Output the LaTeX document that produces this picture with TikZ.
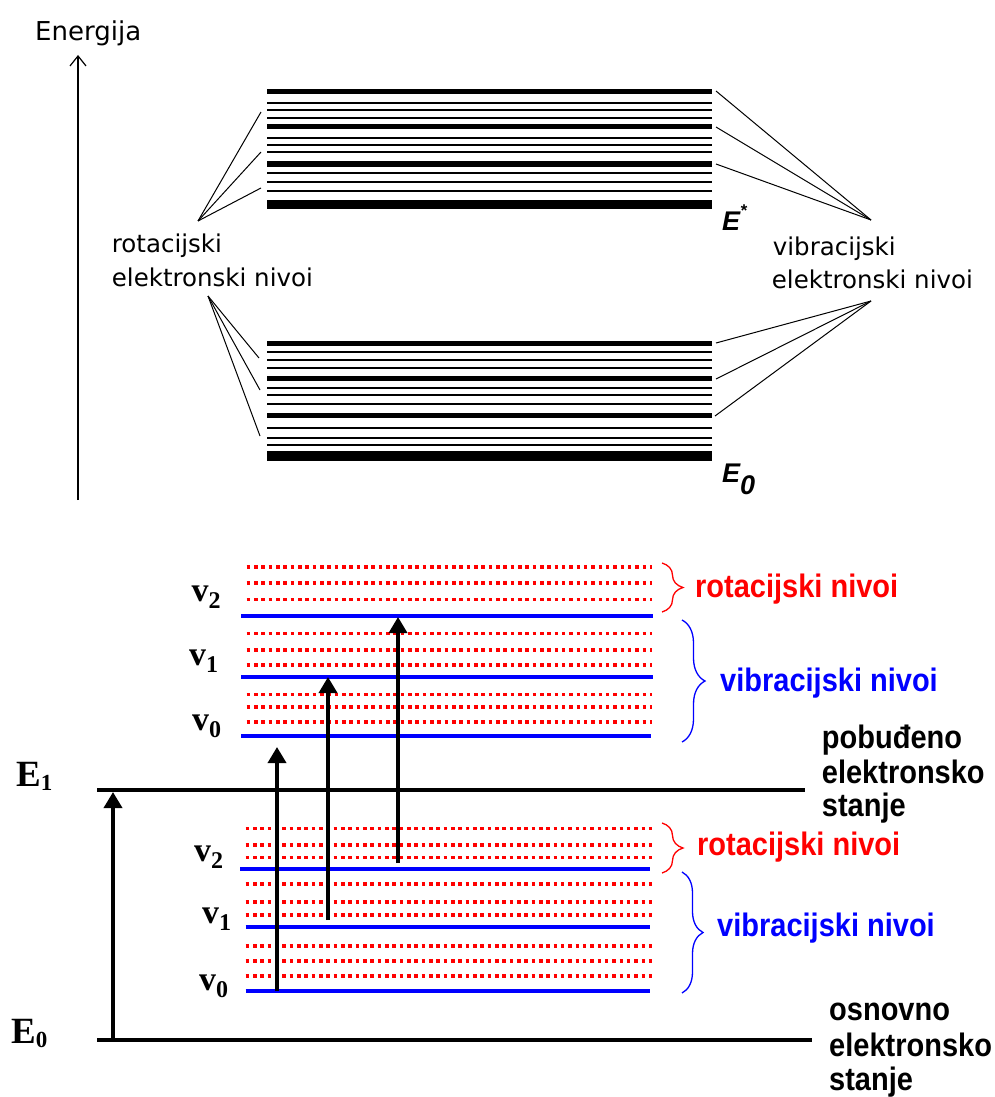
\documentclass[tikz,border=0pt]{standalone}
\usepackage{fontspec}
\usepackage{graphicx}
\setmainfont{DejaVu Sans}
\newfontfamily\dvs{DejaVu Sans}
\newfontfamily\lsans{Liberation Sans}
\newfontfamily\lserif{Liberation Serif}
\usetikzlibrary{arrows.meta,decorations.pathreplacing}
\definecolor{rd}{RGB}{255,0,0}
\definecolor{bl}{RGB}{0,0,255}
\newcommand\ystr[1]{\scalebox{1}[1.12]{#1}}
\newcommand\vlab[1]{{\fontsize{34}{34}\selectfont v}\raisebox{-7pt}{\fontsize{24}{24}\selectfont #1}}
\newcommand\Elab[1]{{\fontsize{37}{37}\selectfont E}\raisebox{-4pt}{\fontsize{23}{23}\selectfont #1}}
\tikzset{
  toptext/.style={inner sep=0pt, anchor=base west, font=\dvs\fontsize{24.5}{24.5}\selectfont},
  etext/.style={inner sep=0pt, anchor=base west, font=\lsans\bfseries\itshape\fontsize{27}{27}\selectfont},
  botlab/.style={inner sep=0pt, anchor=base west, font=\lsans\bfseries\fontsize{29}{29}\selectfont},
  serlab/.style={inner sep=0pt, anchor=base west, font=\lserif\bfseries},
  conn/.style={line width=1pt, black},
  axisarrow/.style={line width=1.2pt, -{Straight Barb[length=10pt,width=16pt]}},
  uparrow/.style={line width=3.5pt, -{Triangle[length=16pt,width=18pt]}},
  rotdots/.style={rd, line width=3.6pt, dash pattern=on 3.6pt off 3.73pt},
  vibline/.style={bl, line width=4pt},
  elline/.style={black, line width=4pt},
  bracestyle/.style={line width=1.3pt, decorate, decoration={brace, amplitude=#1}},
}
\begin{document}
\begin{tikzpicture}[x=1pt,y=-1pt]
\useasboundingbox (0,0) rectangle (995,1097);
\fill[white] (0,0) rectangle (995,1097);

% ---------- upper diagram ----------
\node[toptext, font=\dvs\fontsize{26}{26}\selectfont] (energija) at (35,40.7) {Energija};
\coordinate (axbot) at (78,500);
\coordinate (axtop) at (78,55);
\draw[axisarrow] (axbot) -- (axtop);

% excited band
\foreach \yy/\ww in {91.7/5.3, 102.7/1.8, 110/1.8, 117.7/1.8, 126.7/5.3, 137.7/1.8, 145.3/1.8, 152.3/1.8, 164/5.3, 173.3/1.8, 182.3/1.8, 191.3/1.8, 204.6/9.3}
  \draw[line width=\ww pt] (267,\yy) -- (712,\yy);
% ground band
\foreach \yy/\ww in {343.3/5.3, 352.3/1.8, 360/1.8, 367.7/1.8, 378.7/5.3, 387.7/1.8, 395.3/1.8, 404.3/1.8, 415.7/5.3, 428.3/1.8, 437.7/1.8, 445.3/1.8, 456/9.3}
  \draw[line width=\ww pt] (267,\yy) -- (712,\yy);

\node[etext] (estar) at (722,230) {E\raisebox{14pt}{\fontsize{17}{17}\selectfont *}};
\node[etext] (ezero) at (722,482) {E\raisebox{-12pt}{\fontsize{27}{27}\selectfont 0}};

\node[toptext] (rot1) at (111.7,252.7) {rotacijski};
\node[toptext] (rot2) at (111.7,286) {elektronski nivoi};
\node[toptext] (vib1) at (772.7,255) {vibracijski};
\node[toptext] (vib2) at (771.7,288.3) {elektronski nivoi};

% connectors top-left
\coordinate (apexA) at (198,221);
\coordinate (ta1) at (261,112);
\coordinate (ta2) at (261,152);
\coordinate (ta3) at (261,188);
\draw[conn] (apexA) -- (ta1);
\draw[conn] (apexA) -- (ta2);
\draw[conn] (apexA) -- (ta3);
% connectors top-right
\coordinate (apexB) at (871,220);
\coordinate (tb1) at (716,91);
\coordinate (tb2) at (716,127);
\coordinate (tb3) at (716,164);
\draw[conn] (tb1) -- (apexB);
\draw[conn] (tb2) -- (apexB);
\draw[conn] (tb3) -- (apexB);
% connectors lower-left
\coordinate (apexC) at (208,296);
\coordinate (tc1) at (259,358);
\coordinate (tc2) at (260,390);
\coordinate (tc3) at (260,436);
\draw[conn] (apexC) -- (tc1);
\draw[conn] (apexC) -- (tc2);
\draw[conn] (apexC) -- (tc3);
% connectors lower-right
\coordinate (apexD) at (871,301);
\coordinate (td1) at (716,343);
\coordinate (td2) at (716,379);
\coordinate (td3) at (715,416);
\draw[conn] (td1) -- (apexD);
\draw[conn] (td2) -- (apexD);
\draw[conn] (td3) -- (apexD);

% ---------- lower diagram ----------
% rotational dotted rows, excited state
\foreach \yy in {566.7, 582.7, 599.3, 633.3, 650, 665, 694.3, 706.7, 721.7}
  \draw[rotdots] (246.7,\yy) -- (652,\yy);
% rotational dotted rows, ground state
\foreach \yy in {828.3, 845, 857.3, 884, 901.7, 915, 945.7, 960.7, 975.7}
  \draw[rotdots] (245.7,\yy) -- (652,\yy);

% vibrational levels
\draw[vibline] (241,616) -- (653,616);
\draw[vibline] (241,676.7) -- (653,676.7);
\draw[vibline] (241,736) -- (651,736);
\draw[vibline] (240,869.3) -- (650,869.3);
\draw[vibline] (245.7,927.3) -- (650,927.3);
\draw[vibline] (245.7,990.7) -- (650,990.7);

% electronic levels
\draw[elline] (97,790) -- (805,790);
\draw[elline] (97,1040) -- (812,1040);

% labels
\node[serlab] (E1lab) at (16,786.7) {\Elab{1}};
\node[serlab] (E0lab) at (11,1043) {\Elab{0}};
\node[serlab] (uv2) at (191.5,601.7) {\vlab{2}};
\node[serlab] (uv1) at (189,665) {\vlab{1}};
\node[serlab] (uv0) at (192,730) {\vlab{0}};
\node[serlab] (lv2) at (194,861.7) {\vlab{2}};
\node[serlab] (lv1) at (202,923.3) {\vlab{1}};
\node[serlab] (lv0) at (199,990) {\vlab{0}};

% arrows
\coordinate (ea0) at (113,1040);
\coordinate (ea1) at (113,792);
\draw[uparrow] (ea0) -- (ea1);
\coordinate (a0s) at (277,991);
\coordinate (a0e) at (277,747);
\draw[uparrow] (a0s) -- (a0e);
\coordinate (a1s) at (328,920);
\coordinate (a1e) at (328,677);
\draw[uparrow] (a1s) -- (a1e);
\coordinate (a2s) at (398,863);
\coordinate (a2e) at (398,617);
\draw[uparrow] (a2s) -- (a2e);

% braces
\draw[rd, bracestyle=21pt] (662,563) -- (662,612);
\draw[bl, bracestyle=23pt] (682,620) -- (682,742);
\draw[rd, bracestyle=21pt] (662,823) -- (662,873);
\draw[bl, bracestyle=21pt] (682,872) -- (682,993);

\node[botlab, text=rd] (urot) at (695,597) {\ystr{rotacijski nivoi}};
\node[botlab, text=bl] (uvib) at (720,691.7) {\ystr{vibracijski nivoi}};
\node[botlab, text=rd] (lrot) at (697,855) {\ystr{rotacijski nivoi}};
\node[botlab, text=bl] (lvib) at (717,936.7) {\ystr{vibracijski nivoi}};

\node[botlab] (pob1) at (821.7,748.3) {\ystr{pobuđeno}};
\node[botlab] (pob2) at (821.7,783.3) {\ystr{elektronsko}};
\node[botlab] (pob3) at (821.7,816.7) {\ystr{stanje}};
\node[botlab] (osn1) at (829,1020) {\ystr{osnovno}};
\node[botlab] (osn2) at (829,1056.7) {\ystr{elektronsko}};
\node[botlab] (osn3) at (829,1090) {\ystr{stanje}};
\end{tikzpicture}
\end{document}
